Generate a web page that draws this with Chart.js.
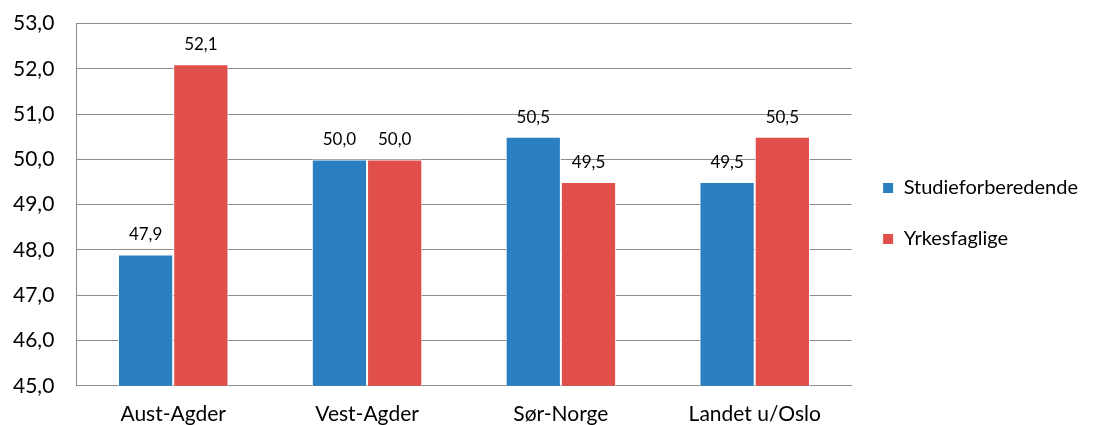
<!DOCTYPE html>
<html>
<head>
<meta charset="utf-8">
<script src="https://cdn.jsdelivr.net/npm/chart.js@4"></script>
<style>
  html, body { margin: 0; padding: 0; background: #fff; overflow: hidden; }
  #wrap { width: 1110px; height: 425px; overflow: hidden; }
  #chart { display: block; margin-top: -11px; }
</style>
</head>
<body>
<div id="wrap"><canvas id="chart" width="1110" height="437"></canvas></div>
<script>
const regions = ['Aust-Agder', 'Vest-Agder', 'Sør-Norge', 'Landet u/Oslo'];
const studie = [47.9, 50.0, 50.5, 49.5];
const yrkes = [52.1, 50.0, 49.5, 50.5];
const seriesNames = ['Studieforberedende', 'Yrkesfaglige'];

const fmt = v => v.toFixed(1).replace('.', ',');

// value labels over each bar
const barLabels = {
    id: 'barLabels',
    afterDatasetsDraw(chart) {
        const ctx = chart.ctx;
        ctx.save();
        ctx.font = '17px Lato, "Liberation Sans", sans-serif';
        ctx.fillStyle = '#000';
        ctx.textAlign = 'center';
        ctx.textBaseline = 'bottom';
        chart.data.datasets.forEach((ds, i) => {
            chart.getDatasetMeta(i).data.forEach((bar, j) => {
                ctx.fillText(fmt(ds.data[j]), bar.x, bar.y - 11);
            });
        });
        ctx.restore();
    }
};

Chart.defaults.font.family = 'Lato, "Liberation Sans", sans-serif';
Chart.defaults.color = '#000';

new Chart(document.getElementById('chart'), {
    type: 'bar',
    data: {
        labels: regions,
        datasets: [{
            label: seriesNames[0],
            data: studie,
            backgroundColor: '#2a7fc0',
            borderColor: '#fff',
            borderWidth: 1
        }, {
            label: seriesNames[1],
            data: yrkes,
            backgroundColor: '#e04f4a',
            borderColor: '#fff',
            borderWidth: 1
        }]
    },
    options: {
        responsive: false,
        animation: false,
        layout: {
            padding: { left: -9, top: -5, right: 22, bottom: -17 }
        },
        datasets: {
            bar: { categoryPercentage: 0.57, barPercentage: 1.0 }
        },
        plugins: {
            tooltip: { enabled: false },
            legend: {
                position: 'right',
                align: 'center',
                labels: {
                    boxWidth: 11,
                    boxHeight: 11,
                    padding: 31,
                    font: { size: 20 }
                }
            }
        },
        scales: {
            x: {
                grid: { display: false, drawTicks: false },
                border: { color: '#8c8c8c' },
                ticks: { padding: 16, font: { size: 21 } }
            },
            y: {
                min: 45,
                max: 53,
                grid: { color: '#8c8c8c', drawTicks: false },
                border: { color: '#8c8c8c' },
                ticks: {
                    stepSize: 1,
                    padding: 22,
                    font: { size: 21 },
                    callback: v => fmt(v)
                }
            }
        }
    },
    plugins: [barLabels]
});
</script>
</body>
</html>
